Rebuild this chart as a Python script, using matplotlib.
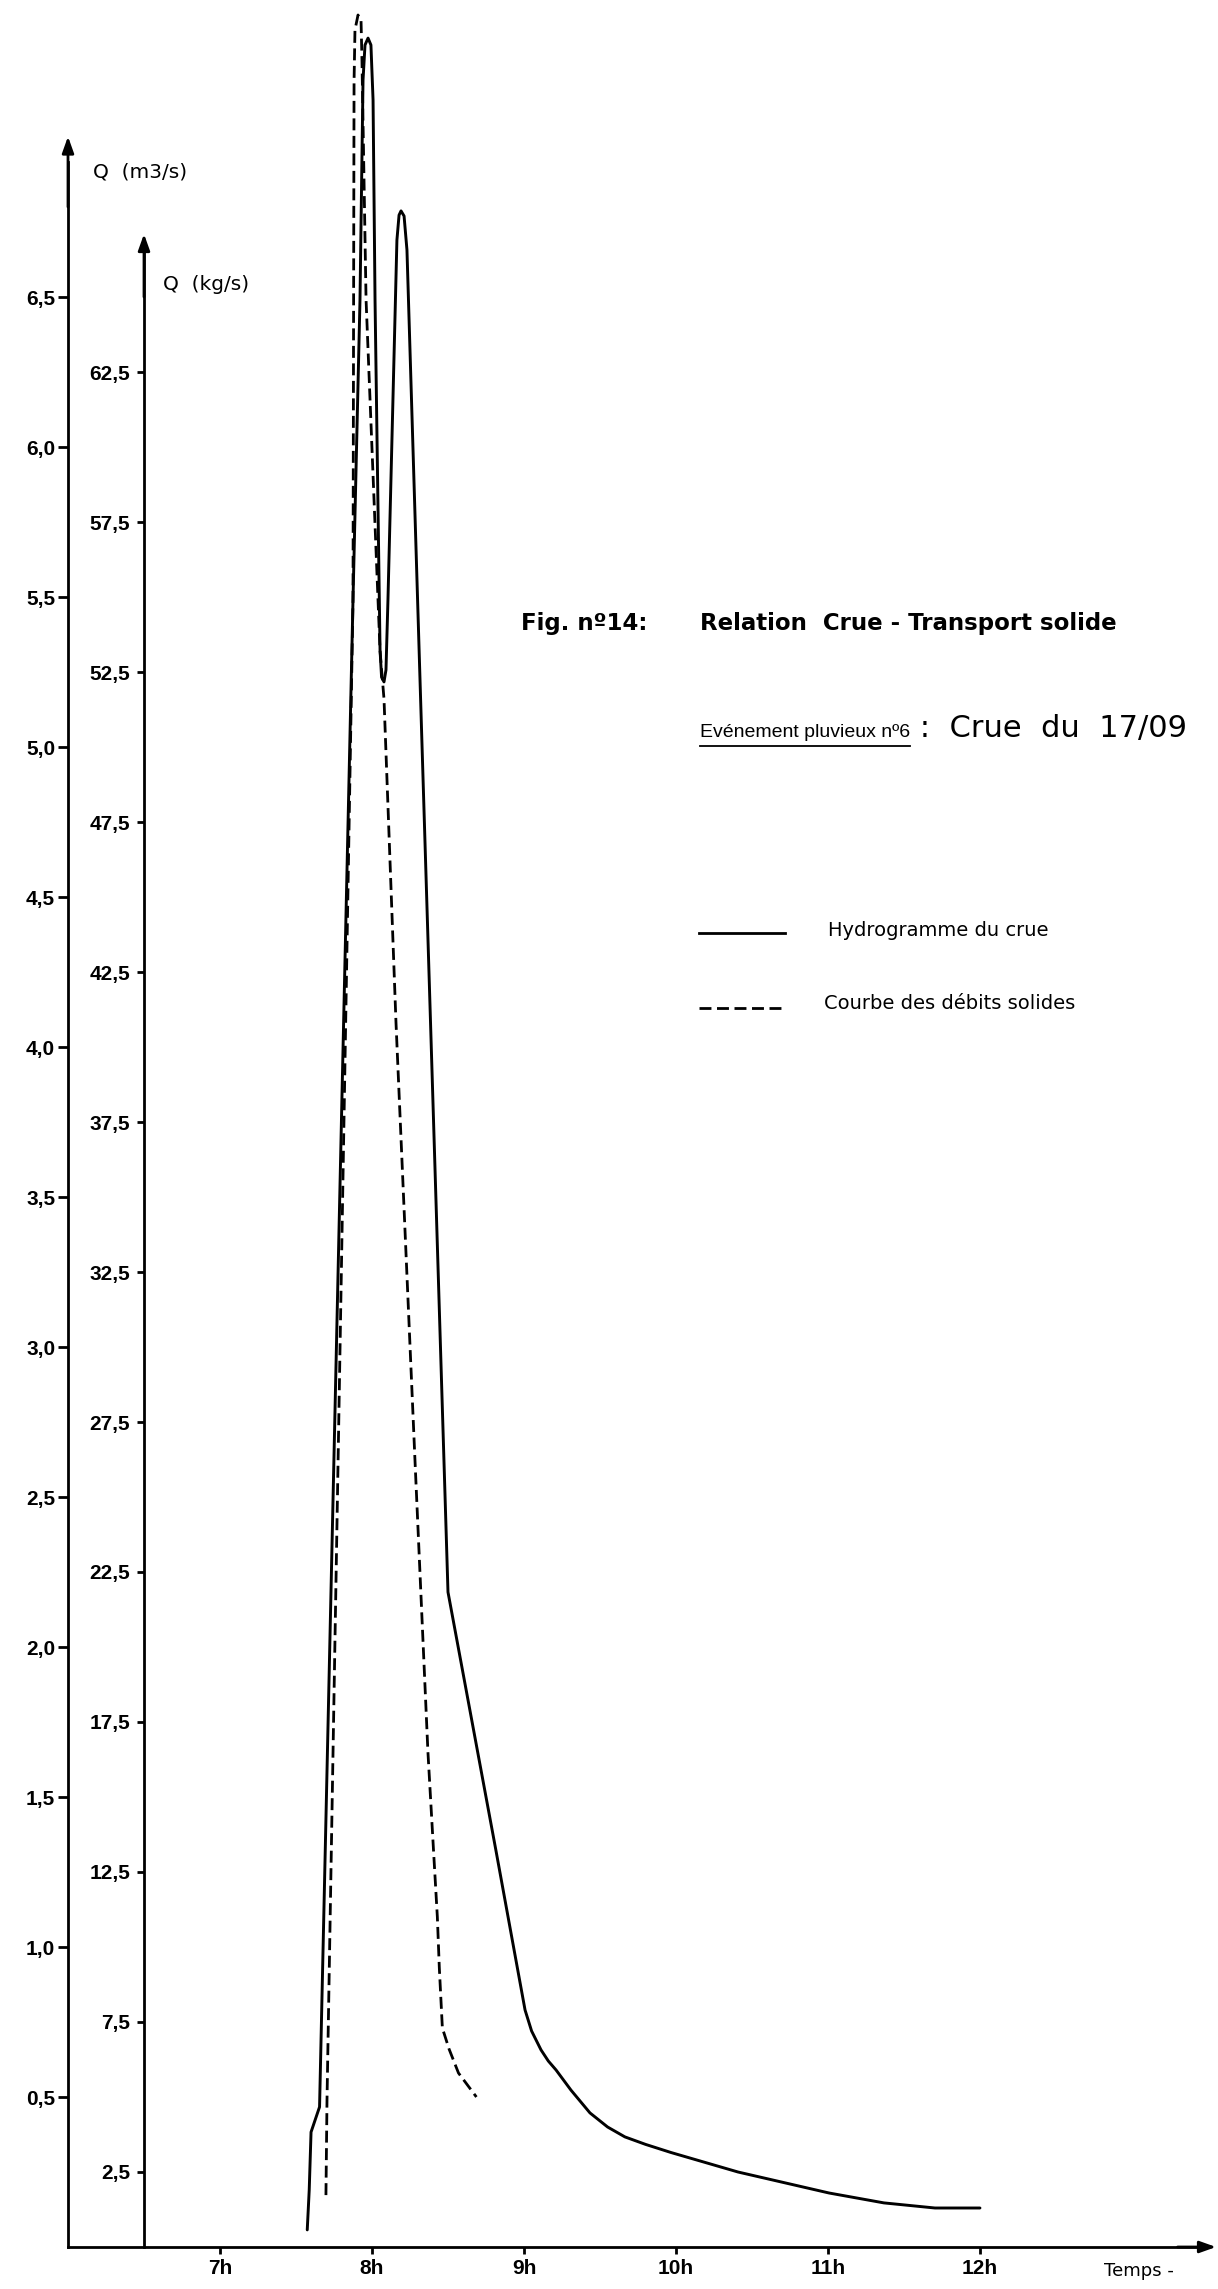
import matplotlib
matplotlib.use("Agg")
import matplotlib.pyplot as plt
from matplotlib.lines import Line2D

# Hydrogramme de crue : temps (h) et débit liquide (m3/s)
hydro_time = [7.574, 7.587, 7.599, 7.655, 7.875, 7.921, 7.941, 7.954, 7.974, 7.993,
              8.007, 8.020, 8.053, 8.063, 8.079, 8.092, 8.105, 8.164, 8.178, 8.191,
              8.211, 8.230, 8.316, 8.500, 8.815, 9.007, 9.05, 9.112, 9.16, 9.211,
              9.309, 9.434, 9.55, 9.664, 9.80, 9.967, 10.408, 11.007, 11.368, 11.704,
              12.0]
hydro_q = [0.057, 0.19, 0.383, 0.467, 5.49, 6.49, 7.223, 7.34, 7.363, 7.34,
           7.157, 6.49, 5.323, 5.233, 5.217, 5.257, 5.49, 6.69, 6.773, 6.787,
           6.77, 6.657, 5.223, 2.183, 1.323, 0.79, 0.72, 0.657, 0.62, 0.59,
           0.523, 0.447, 0.40, 0.367, 0.342, 0.315, 0.25, 0.18, 0.147, 0.13,
           0.13]

# Courbe des débits solides : temps (h) et débit solide (kg/s)
solid_time = [7.697, 7.704, 7.875, 7.882, 7.888, 7.908, 7.928, 7.934, 7.961, 8.053,
              8.079, 8.158, 8.283, 8.368, 8.405, 8.430, 8.443, 8.463, 8.507, 8.569,
              8.687]
solid_q = [1.73, 4.9, 54.9, 72.2, 73.9, 74.4, 74.2, 72.9, 64.9, 53.2,
           51.6, 40.8, 26.2, 16.5, 13.2, 11.0, 9.3, 7.3, 6.6, 5.8,
           5.0]

m3_ticks = [0.5, 1.0, 1.5, 2.0, 2.5, 3.0, 3.5, 4.0, 4.5, 5.0, 5.5, 6.0, 6.5]
m3_labels = ["0,5", "1,0", "1,5", "2,0", "2,5", "3,0", "3,5", "4,0", "4,5",
             "5,0", "5,5", "6,0", "6,5"]
kg_ticks = [2.5, 7.5, 12.5, 17.5, 22.5, 27.5, 32.5, 37.5, 42.5, 47.5, 52.5, 57.5, 62.5]
kg_labels = ["2,5", "7,5", "12,5", "17,5", "22,5", "27,5", "32,5", "37,5", "42,5",
             "47,5", "52,5", "57,5", "62,5"]
hour_ticks = [7, 8, 9, 10, 11, 12]
hour_labels = ["7h", "8h", "9h", "10h", "11h", "12h"]

W, H = 1218, 2289
fig = plt.figure(figsize=(W / 100, H / 100), dpi=100)
fig.patch.set_facecolor("white")


def fx(px):
    return px / W


def fy(py):
    return 1 - py / H


tick_font = dict(fontsize=15, fontweight="bold", family="Liberation Sans")

# main axes: time / liquid discharge
ax = fig.add_axes([0, 0, 1, 1])
ax.set_xlim(5.5526, 13.566)
ax.set_ylim(-0.14, 7.49)
ax.patch.set_visible(False)
for s in ("top", "right"):
    ax.spines[s].set_visible(False)
ax.spines["left"].set_position(("data", 6.0))
ax.spines["left"].set_bounds(0, 6.95)
ax.spines["bottom"].set_position(("data", 0.0))
ax.spines["bottom"].set_bounds(6.0, 13.45)
for s in ("left", "bottom"):
    ax.spines[s].set_linewidth(2.0)
ax.set_yticks(m3_ticks, m3_labels, **tick_font)
ax.set_xticks(hour_ticks, hour_labels, **tick_font)
ax.tick_params(axis="y", direction="out", length=7.2, width=2, pad=2)
ax.tick_params(axis="x", direction="out", length=5, width=2, pad=3.5)

# second axis: solid discharge in kg/s
ax2 = ax.twinx()
ax2.set_ylim(-1.4, 74.9)
ax2.patch.set_visible(False)
for s in ("top", "right", "bottom"):
    ax2.spines[s].set_visible(False)
ax2.spines["left"].set_visible(True)
ax2.spines["left"].set_position(("data", 6.5))
ax2.spines["left"].set_bounds(0, 66.5)
ax2.spines["left"].set_linewidth(2.0)
ax2.yaxis.tick_left()
ax2.set_yticks(kg_ticks, kg_labels, **tick_font)
ax2.tick_params(axis="y", direction="out", length=5, width=2, pad=5.0)

# arrow heads on the axes
head = dict(arrowstyle="-|>,head_length=0.7,head_width=0.25", color="k", lw=2,
            shrinkA=0, shrinkB=0, mutation_scale=14)
ax.annotate("", xy=(6.0, 7.035), xytext=(6.0, 6.8), arrowprops=head)
ax.annotate("", xy=(6.5, 6.71), xytext=(6.5, 6.5), arrowprops=head)
ax.annotate("", xy=(13.553, 0.0), xytext=(13.3, 0.0), arrowprops=head)

# curves
ax.plot(hydro_time, hydro_q, color="k", lw=2.1, solid_joinstyle="round",
        solid_capstyle="round", clip_on=False)
ax2.plot(solid_time, solid_q, color="k", lw=2.0, ls=(0, (4.3, 2.0)),
         dash_joinstyle="round", clip_on=False)

# axis titles
fig.text(fx(93), fy(172), "Q  (m3/s)", fontsize=14.5, family="DejaVu Sans",
         va="center", ha="left")
fig.text(fx(163), fy(285), "Q  (kg/s)", fontsize=14.5, family="DejaVu Sans",
         va="center", ha="left")
fig.text(fx(1104), fy(2271), "Temps -", fontsize=13, family="DejaVu Sans",
         va="center", ha="left")

# figure title
fig.text(fx(521), fy(630), "Fig. nº14:", fontsize=16.5, fontweight="bold",
         family="DejaVu Sans", va="baseline", ha="left")
fig.text(fx(700), fy(630), "Relation  Crue - Transport solide", fontsize=16.5,
         fontweight="bold", family="DejaVu Sans", va="baseline", ha="left")

# event subtitle, first part underlined
renderer = fig.canvas.get_renderer()
sub1 = fig.text(fx(700), fy(737), "Evénement pluvieux nº6", fontsize=14,
                family="Liberation Sans", va="baseline", ha="left")
bb = sub1.get_window_extent(renderer)
fig.add_artist(Line2D([bb.x0 / W, bb.x1 / W], [fy(746), fy(746)], color="k", lw=1.3))
fig.text(bb.x1 / W, fy(737), " :  Crue  du  17/09", fontsize=22, family="DejaVu Sans",
         va="baseline", ha="left")

# legend
fig.add_artist(Line2D([fx(699), fx(785)], [fy(933), fy(933)], color="k", lw=2.0))
fig.add_artist(Line2D([fx(699), fx(785)], [fy(1008), fy(1008)], color="k", lw=2.0,
                      ls=(0, (4.3, 2.0))))
fig.text(fx(828), fy(930), "Hydrogramme du crue", fontsize=14, family="DejaVu Sans",
         va="center", ha="left")
fig.text(fx(824), fy(1004), "Courbe des débits solides", fontsize=14,
         family="DejaVu Sans", va="center", ha="left")

fig.savefig("out.png", dpi=100, facecolor="white")
